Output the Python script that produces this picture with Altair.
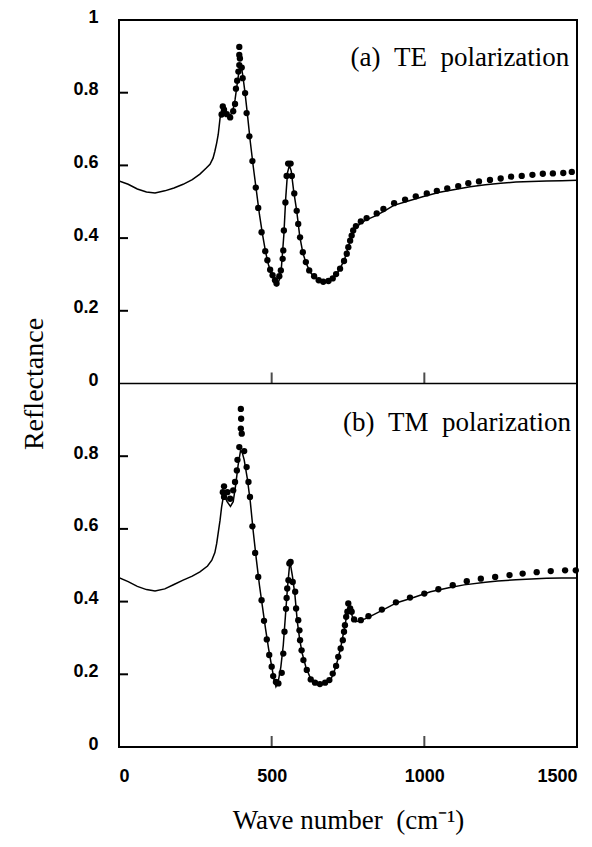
import altair as alt
import pandas as pd

# ---------------- data ----------------
# (a) TE polarization : calculated curve
te_line_wn = [0, 30, 60, 90, 118, 150, 180, 210, 240, 265, 285, 298, 308, 314, 320, 325, 331, 337, 343,
              352, 362, 372, 380, 388, 395, 400, 405, 412, 420, 430, 440, 450, 460, 470, 480, 490, 500,
              510, 517, 525, 532, 540, 546, 552, 558, 564, 572, 582, 592, 602, 612, 625, 640, 655, 670,
              685, 700, 712, 725, 738, 750, 760, 768, 778, 792, 810, 840, 870, 900, 950, 1000, 1050,
              1100, 1150, 1200, 1250, 1300, 1350, 1400, 1450, 1500]
te_line_r = [0.557, 0.548, 0.535, 0.527, 0.524, 0.530, 0.538, 0.548, 0.561, 0.576, 0.592, 0.603, 0.620,
             0.639, 0.662, 0.685, 0.730, 0.755, 0.758, 0.745, 0.735, 0.748, 0.780, 0.830, 0.870, 0.875,
             0.850, 0.805, 0.745, 0.665, 0.595, 0.530, 0.465, 0.410, 0.362, 0.325, 0.300, 0.282, 0.270,
             0.285, 0.320, 0.410, 0.510, 0.580, 0.600, 0.585, 0.530, 0.475, 0.405, 0.360, 0.333, 0.308,
             0.292, 0.283, 0.278, 0.280, 0.288, 0.300, 0.318, 0.340, 0.372, 0.400, 0.418, 0.430, 0.441,
             0.450, 0.461, 0.475, 0.490, 0.503, 0.515, 0.526, 0.534, 0.541, 0.547, 0.551, 0.554, 0.556,
             0.557, 0.558, 0.559]
# (a) TE polarization : measured points
te_dot_wn = [340, 344, 336, 353, 364, 374, 380, 383, 387, 391, 394, 396, 394, 394, 402, 405, 413, 418,
             427, 437, 448, 456, 467, 479, 486, 495, 503, 511, 516, 525, 530, 536, 538, 540, 545, 549,
             554, 562, 566, 574, 582, 587, 593, 602, 612, 623, 639, 654, 669, 686, 700, 711, 724, 737,
             746, 751, 757, 762, 767, 776, 792, 811, 844, 866, 901, 937, 972, 1008, 1041, 1075, 1111,
             1144, 1179, 1215, 1250, 1284, 1319, 1354, 1388, 1421, 1455, 1483]
te_dot_r = [0.762, 0.753, 0.740, 0.741, 0.732, 0.749, 0.769, 0.811, 0.833, 0.858, 0.876, 0.894, 0.904,
            0.926, 0.869, 0.840, 0.799, 0.744, 0.680, 0.612, 0.539, 0.483, 0.416, 0.364, 0.339, 0.313,
            0.298, 0.284, 0.275, 0.295, 0.311, 0.343, 0.366, 0.421, 0.498, 0.571, 0.605, 0.605, 0.571,
            0.523, 0.475, 0.439, 0.402, 0.361, 0.334, 0.311, 0.295, 0.284, 0.280, 0.282, 0.289, 0.301,
            0.316, 0.337, 0.357, 0.375, 0.393, 0.407, 0.421, 0.433, 0.446, 0.455, 0.468, 0.480, 0.496,
            0.506, 0.515, 0.523, 0.530, 0.537, 0.543, 0.551, 0.556, 0.560, 0.564, 0.569, 0.571, 0.574,
            0.577, 0.578, 0.579, 0.582]

# (b) TM polarization : calculated curve
tm_line_wn = [0, 30, 60, 90, 118, 150, 180, 210, 240, 265, 290, 304, 314, 320, 326, 331, 336, 341, 346,
              354, 365, 374, 382, 390, 398, 403, 410, 420, 430, 440, 450, 460, 470, 480, 490, 500, 508,
              514, 521, 530, 538, 545, 552, 558, 562, 568, 576, 584, 592, 600, 612, 625, 640, 660, 680,
              695, 708, 718, 728, 738, 746, 752, 758, 766, 775, 790, 815, 860, 910, 960, 1020, 1080,
              1130, 1200, 1240, 1300, 1350, 1400, 1450, 1500]
tm_line_r = [0.466, 0.455, 0.442, 0.433, 0.429, 0.435, 0.447, 0.459, 0.470, 0.482, 0.498, 0.514, 0.535,
             0.560, 0.595, 0.624, 0.660, 0.685, 0.690, 0.675, 0.662, 0.675, 0.720, 0.775, 0.815, 0.812,
             0.790, 0.740, 0.675, 0.590, 0.515, 0.445, 0.385, 0.325, 0.270, 0.222, 0.185, 0.166, 0.178,
             0.220, 0.280, 0.360, 0.440, 0.495, 0.500, 0.470, 0.420, 0.345, 0.295, 0.258, 0.220, 0.193,
             0.179, 0.172, 0.175, 0.188, 0.215, 0.245, 0.282, 0.325, 0.362, 0.385, 0.375, 0.355, 0.345,
             0.347, 0.356, 0.375, 0.397, 0.410, 0.427, 0.438, 0.446, 0.453, 0.457, 0.460, 0.462, 0.464,
             0.465, 0.465]
# (b) TM polarization : measured points
tm_dot_wn = [340, 344, 344, 355, 364, 374, 380, 386, 388, 394, 399, 400, 399, 402, 410, 418, 424, 429,
             437, 446, 456, 467, 475, 484, 492, 500, 505, 514, 522, 533, 538, 542, 547, 549, 551, 555,
             558, 562, 569, 577, 580, 587, 591, 593, 598, 604, 615, 628, 642, 658, 675, 689, 700, 711,
             718, 726, 733, 737, 740, 744, 748, 751, 757, 762, 770, 792, 817, 861, 907, 953, 1000, 1046,
             1093, 1139, 1185, 1232, 1279, 1322, 1368, 1414, 1461, 1496]
tm_dot_r = [0.701, 0.717, 0.688, 0.701, 0.683, 0.706, 0.729, 0.761, 0.790, 0.825, 0.876, 0.903, 0.930,
            0.862, 0.814, 0.770, 0.729, 0.688, 0.607, 0.534, 0.468, 0.404, 0.347, 0.296, 0.253, 0.221,
            0.195, 0.179, 0.175, 0.204, 0.257, 0.317, 0.380, 0.410, 0.436, 0.459, 0.505, 0.509, 0.454,
            0.427, 0.381, 0.349, 0.321, 0.294, 0.266, 0.239, 0.212, 0.186, 0.177, 0.173, 0.177, 0.184,
            0.202, 0.223, 0.248, 0.271, 0.294, 0.317, 0.335, 0.358, 0.372, 0.395, 0.381, 0.372, 0.351,
            0.349, 0.360, 0.378, 0.398, 0.411, 0.422, 0.434, 0.445, 0.456, 0.463, 0.468, 0.473, 0.477,
            0.481, 0.484, 0.486, 0.486]

NB = "\u00a0"
panel_names = ["TE", "TM"]
panel_texts = ["(a)" + NB * 2 + "TE" + NB * 2 + "polarization",
               "(b)" + NB * 2 + "TM" + NB * 2 + "polarization"]
panel_offsets = [1.0, 0.0]          # TE panel stacked above TM panel on a 0..2 scale
panel_text_wn = [1475, 1480]
panel_text_r = [0.895, 0.89]

x_tick_values = [0, 500, 1000, 1500]
x_inner_ticks = [500, 1000]
r_tick_values = [0.2, 0.4, 0.6, 0.8]
y_label_values = [0, 0.2, 0.4, 0.6, 0.8, 1.0, 1.2, 1.4, 1.6, 1.8, 2.0]

# ---------------- tables ----------------
lines = pd.concat([
    pd.DataFrame({"wn": te_line_wn, "y": [r + panel_offsets[0] for r in te_line_r], "panel": "TE"}),
    pd.DataFrame({"wn": tm_line_wn, "y": [r + panel_offsets[1] for r in tm_line_r], "panel": "TM"}),
])
dots = pd.concat([
    pd.DataFrame({"wn": te_dot_wn, "y": [r + panel_offsets[0] for r in te_dot_r], "panel": "TE"}),
    pd.DataFrame({"wn": tm_dot_wn, "y": [r + panel_offsets[1] for r in tm_dot_r], "panel": "TM"}),
])
ytick_df = pd.DataFrame({"y": [r + o for o in panel_offsets for r in r_tick_values]})
xtick_df = pd.DataFrame([{"wn": w, "y": o} for o in panel_offsets for w in x_inner_ticks])
sep_df = pd.DataFrame({"y": [panel_offsets[0]]})
text_df = pd.DataFrame({"wn": panel_text_wn,
                        "y": [r + o for r, o in zip(panel_text_r, panel_offsets)],
                        "label": panel_texts})

SERIF = "Liberation Serif"
SANS = "Liberation Sans"

xscale = alt.Scale(domain=[0, 1500], nice=False, zero=False)
yscale = alt.Scale(domain=[0, 2], nice=False)

x_enc = alt.X("wn:Q", scale=xscale,
              axis=alt.Axis(values=x_tick_values, format="d", ticks=False, domain=False, grid=False,
                            labelFlush=True, labelFont=SANS, labelFontWeight="bold",
                            labelFontSize=18, labelPadding=20, labelColor="black",
                            title="Wave" + NB + "number" + NB * 2 + "(cm\u207b\u00b9)", titleFont=SERIF,
                            titleFontWeight="normal", titleFontSize=27, titlePadding=22,
                            titleColor="black"))
y_enc = alt.Y("y:Q", scale=yscale,
              axis=alt.Axis(values=y_label_values, ticks=False, domain=False, grid=False,
                            labelExpr="datum.value > 0.999 ? format(datum.value - 1, '.1~f') : format(datum.value, '.1~f')",
                            labelFont=SANS, labelFontWeight="bold", labelFontSize=18,
                            labelPadding=21, labelOffset=-3, labelColor="black",
                            title="Reflectance", titleFont=SERIF, titleFontWeight="normal",
                            titleFontSize=28, titlePadding=24, titleColor="black"))

line_layer = alt.Chart(lines).mark_line(color="black", strokeWidth=1.5, clip=True).encode(
    x=x_enc, y=y_enc, detail="panel:N")
dot_layer = alt.Chart(dots).mark_circle(color="black", opacity=1, size=40).encode(
    x=alt.X("wn:Q", scale=xscale), y=alt.Y("y:Q", scale=yscale))
ytick_layer = alt.Chart(ytick_df).mark_rule(color="black", strokeWidth=2).encode(
    y=alt.Y("y:Q", scale=yscale), x=alt.value(0), x2=alt.value(9))
xtick_layer = alt.Chart(xtick_df).mark_tick(color="black", orient="vertical", size=11,
                                            thickness=2, yOffset=-5.5).encode(
    x=alt.X("wn:Q", scale=xscale), y=alt.Y("y:Q", scale=yscale))
sep_layer = alt.Chart(sep_df).mark_rule(color="black", strokeWidth=1.6).encode(
    y=alt.Y("y:Q", scale=yscale))
text_layer = alt.Chart(text_df).mark_text(align="right", baseline="middle", font=SERIF,
                                          fontSize=27, color="black").encode(
    x=alt.X("wn:Q", scale=xscale), y=alt.Y("y:Q", scale=yscale), text="label:N")

chart = alt.layer(line_layer, dot_layer, ytick_layer, xtick_layer, sep_layer, text_layer).properties(
    width=458, height=727,
    autosize=alt.AutoSizeParams(type="none"),
    padding={"left": 111, "top": 12, "right": 7, "bottom": 92},
    background="white",
).configure_view(stroke="black", strokeWidth=2)

chart.save("out.html", embed_options={"renderer": "svg", "actions": False})
